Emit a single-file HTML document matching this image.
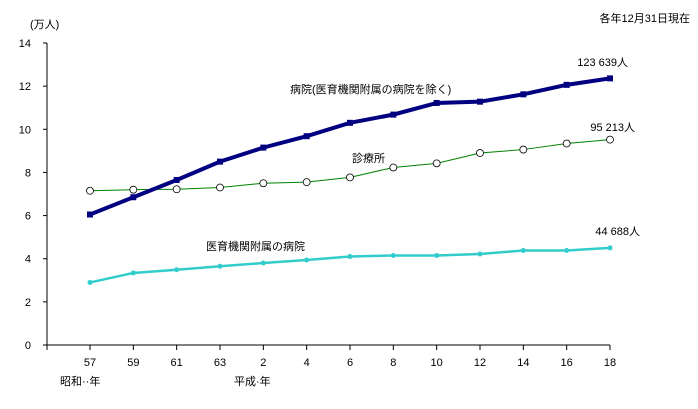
<!DOCTYPE html>
<html><head><meta charset="utf-8"><style>
body{margin:0;background:#fff}
svg text{font-family:"Liberation Sans","Noto Sans CJK JP",sans-serif;font-size:11px;fill:#000}
</style></head><body>
<svg id="c" width="698" height="404" xmlns="http://www.w3.org/2000/svg">
<text x="30" y="28">(万人)</text>
<text x="690" y="22" text-anchor="end">各年12月31日現在</text>
<text x="60" y="385">昭和··年</text>
<text x="234" y="385">平成·年</text>
<text x="290" y="93">病院(医育機関附属の病院を除く)</text>
<text x="352" y="162">診療所</text>
<text x="206" y="250">医育機関附属の病院</text>
<text x="628" y="66" text-anchor="end">123 639人</text>
<text x="635" y="131" text-anchor="end">95 213人</text>
<text x="640" y="235" text-anchor="end">44 688人</text>
<g id="g"></g>
</svg>
<script>
const categories=["57","59","61","63","2","4","6","8","10","12","14","16","18"];
const hospital=[6.05,6.85,7.65,8.5,9.15,9.68,10.3,10.68,11.22,11.28,11.62,12.06,12.36];
const clinic=[7.15,7.2,7.22,7.3,7.5,7.55,7.77,8.23,8.42,8.9,9.06,9.34,9.52];
const univ=[2.9,3.34,3.49,3.65,3.8,3.94,4.1,4.15,4.15,4.22,4.38,4.38,4.5];
const yTicks=[0,2,4,6,8,10,12,14];
const NS="http://www.w3.org/2000/svg",g=document.getElementById('g');
const X=i=>90+i*(520/12), Y=v=>345-v*(302/14);
function el(t,a){const e=document.createElementNS(NS,t);for(const k in a)e.setAttribute(k,a[k]);g.appendChild(e);return e;}
let e=el('line',{x1:47,y1:43,x2:47,y2:345,stroke:'#000'});


e=el('line',{x1:47,y1:345,x2:610,y2:345,stroke:'#000'});


yTicks.forEach(v=>{
 el('line',{x1:43,y1:Y(v),x2:47,y2:Y(v),stroke:'#000'});
 const t=el('text',{x:31,y:Y(v)+4,'text-anchor':'end'});t.textContent=v;
 
 
});
el('line',{x1:47,y1:345,x2:47,y2:350,stroke:'#000'});
categories.forEach((c,i)=>{
 el('line',{x1:X(i),y1:345,x2:X(i),y2:350,stroke:'#000'});
 const t=el('text',{x:X(i),y:366,'text-anchor':'middle'});t.textContent=c;
 
 
});
function series(d,color,w,name,mk){
 const p=el('polyline',{points:d.map((v,i)=>X(i)+','+Y(v)).join(' '),fill:'none',stroke:color,'stroke-width':w});
 
 
 d.forEach((v,i)=>{let m;
  if(mk==='sq')m=el('rect',{x:X(i)-3,y:Y(v)-3,width:6,height:6,fill:color});
  else if(mk==='o')m=el('circle',{cx:X(i),cy:Y(v),r:3.5,fill:'#fff',stroke:'#000','stroke-width':0.8});
  else m=el('circle',{cx:X(i),cy:Y(v),r:2.5,fill:color});
  
  
 });
}
series(univ,'#33CCCC',2.5,'univ','dot');
series(clinic,'#008000',1,'clinic','o');
series(hospital,'#000080',4,'hospital','sq');
</script>
</body></html>
